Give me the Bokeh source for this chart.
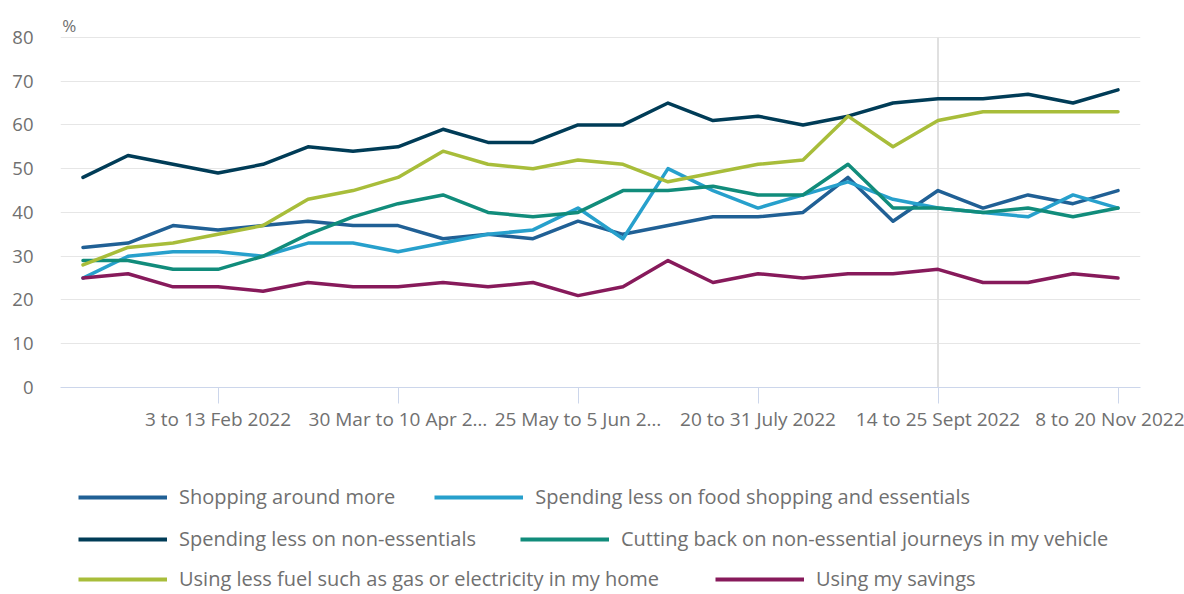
from bokeh.plotting import figure
from bokeh.layouts import column
from bokeh.models import Range1d, FixedTicker, Legend, LegendItem, Label
from bokeh.embed import file_html
from bokeh.resources import INLINE

# ---- data -------------------------------------------------------------
period_index = list(range(24))
tick_index = [3, 7, 11, 15, 19, 23]
tick_labels = ["3 to 13 Feb 2022", "30 Mar to 10 Apr 2\u2026", "25 May to 5 Jun 2\u2026",
               "20 to 31 July 2022", "14 to 25 Sept 2022", "8 to 20 Nov 2022"]
highlight_period = 19

shopping_around = [32, 33, 37, 36, 37, 38, 37, 37, 34, 35, 34, 38, 35, 37, 39, 39, 40, 48, 38, 45, 41, 44, 42, 45]
less_food = [25, 30, 31, 31, 30, 33, 33, 31, 33, 35, 36, 41, 34, 50, 45, 41, 44, 47, 43, 41, 40, 39, 44, 41]
less_non_essentials = [48, 53, 51, 49, 51, 55, 54, 55, 59, 56, 56, 60, 60, 65, 61, 62, 60, 62, 65, 66, 66, 67, 65, 68]
cutting_journeys = [29, 29, 27, 27, 30, 35, 39, 42, 44, 40, 39, 40, 45, 45, 46, 44, 44, 51, 41, 41, 40, 41, 39, 41]
less_fuel = [28, 32, 33, 35, 37, 43, 45, 48, 54, 51, 50, 52, 51, 47, 49, 51, 52, 62, 55, 61, 63, 63, 63, 63]
savings = [25, 26, 23, 23, 22, 24, 23, 23, 24, 23, 24, 21, 23, 29, 24, 26, 25, 26, 26, 27, 24, 24, 26, 25]

series_names = ["Shopping around more", "Spending less on food shopping and essentials",
                "Spending less on non-essentials", "Cutting back on non-essential journeys in my vehicle",
                "Using less fuel such as gas or electricity in my home", "Using my savings"]
series_values = [shopping_around, less_food, less_non_essentials, cutting_journeys, less_fuel, savings]
series_colors = ["#206095", "#27a0cc", "#003c57", "#118c7b", "#a8bd3a", "#871a5b"]
y_ticks = [0, 10, 20, 30, 40, 50, 60, 70, 80]

FONT = "Open Sans"
TEXT = "#707070"
W = 1184

# ---- main chart -------------------------------------------------------
p = figure(width=W, height=450, title=None,
           x_range=Range1d(-0.5, 23.5), y_range=Range1d(0, 85),
           output_backend="svg", toolbar_location=None,
           min_border_left=60, min_border_right=44,
           min_border_top=15, min_border_bottom=63)
p.outline_line_color = None
p.border_fill_color = "white"

p.xgrid.grid_line_color = None
p.ygrid.ticker = FixedTicker(ticks=y_ticks[1:])
p.ygrid.grid_line_color = "#e6e6e6"
p.ygrid.grid_line_width = 1

p.segment(x0=[highlight_period], y0=[y_ticks[0]], x1=[highlight_period], y1=[y_ticks[-1]],
          line_color="#e0e0e0", line_width=2)

p.yaxis.ticker = FixedTicker(ticks=y_ticks)
p.yaxis.axis_line_color = None
p.yaxis.major_tick_line_color = None
p.yaxis.minor_tick_line_color = None
p.yaxis.major_tick_out = 0
p.yaxis.major_label_standoff = 27
p.yaxis.major_label_text_font = FONT
p.yaxis.major_label_text_font_size = "18.5px"
p.yaxis.major_label_text_color = TEXT

p.xaxis.ticker = FixedTicker(ticks=tick_index)
p.xaxis.major_label_overrides = {i: t for i, t in zip(tick_index, tick_labels)}
p.xaxis.axis_line_color = "#ccd6eb"
p.xaxis.major_tick_line_color = "#ccd6eb"
p.xaxis.minor_tick_line_color = None
p.xaxis.major_tick_out = 16
p.xaxis.major_tick_in = 0
p.xaxis.major_label_standoff = 2
p.xaxis.major_label_text_font = FONT
p.xaxis.major_label_text_font_size = "19px"
p.xaxis.major_label_text_color = TEXT

p.add_layout(Label(x=-0.46, y=82.7, text="%", text_font=FONT, text_font_size="17px",
                   text_color=TEXT, text_baseline="middle"))

for name, vals, col in zip(series_names, series_values, series_colors):
    p.line(period_index, vals, line_color=col, line_width=3.5,
           line_join="round", line_cap="round")

# ---- legend panel (frame aligned with main chart's frame) -------------
lg = figure(width=W, height=144, title=None,
            x_range=Range1d(0, 1), y_range=Range1d(0, 1),
            output_backend="svg", toolbar_location=None,
            min_border_left=60, min_border_right=44, min_border_top=0, min_border_bottom=0)
lg.axis.visible = False
lg.grid.visible = False
lg.outline_line_color = None

nan = float("nan")
swatches = [lg.line(x=[nan], y=[nan], line_color=col, line_width=4) for col in series_colors]

row_offsets = [84, 42, 2]
row_spacing = [39, 44, 56]
for row in range(3):
    items = [LegendItem(label=series_names[2 * row + k], renderers=[swatches[2 * row + k]])
             for k in range(2)]
    leg = Legend(items=items, orientation="horizontal", location=(18, row_offsets[row]),
                 glyph_width=89, glyph_height=26, label_height=26, label_standoff=12,
                 spacing=row_spacing[row], padding=0, margin=0, border_line_color=None,
                 background_fill_alpha=0, label_text_font=FONT,
                 label_text_font_size="20px", label_text_color=TEXT)
    lg.add_layout(leg)

layout = column(p, lg, spacing=0)
open("out.html", "w").write(file_html(layout, INLINE))
